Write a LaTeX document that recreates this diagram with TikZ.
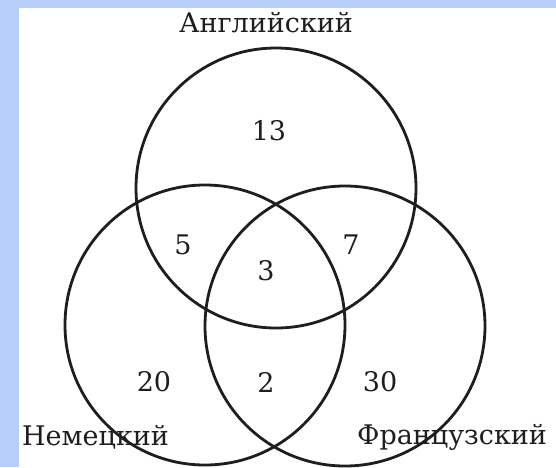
\documentclass[tikz,border=0pt]{standalone}
\usepackage{fontspec}
\setmainfont{DejaVu Serif}
\definecolor{bgblue}{RGB}{184,206,250}
\definecolor{ink}{RGB}{30,30,30}
\begin{document}
\begin{tikzpicture}[x=1pt,y=-1pt,
  circ/.style={draw=ink,line width=2.8pt},
  num/.style={font=\fontsize{27}{31}\selectfont,text=ink,inner sep=0pt},
  lab/.style={font=\fontsize{27}{31}\selectfont,text=ink,inner sep=0pt}]
\fill[bgblue] (0,0) rectangle (556,467);
\fill[white] (19,8) rectangle (556,467);
\useasboundingbox (0,0) rectangle (556,467);
\draw[circ] (276,188) circle[radius=140];
\draw[circ] (205,325) circle[radius=140];
\draw[circ] (345,326) circle[radius=140];
\node[lab] (en) at (266,23) {Английский};
\node[lab,anchor=west] (de) at (22,437) {Немецкий};
\node[lab,anchor=west] (fr) at (357,437) {Французский};
\node[num] (n13) at (269,131) {13};
\node[num] (n5) at (183,245) {5};
\node[num] (n3) at (266,271) {3};
\node[num] (n7) at (351,245) {7};
\node[num] (n20) at (154,382) {20};
\node[num] (n2) at (266,382) {2};
\node[num] (n30) at (380,382) {30};
\end{tikzpicture}
\end{document}
